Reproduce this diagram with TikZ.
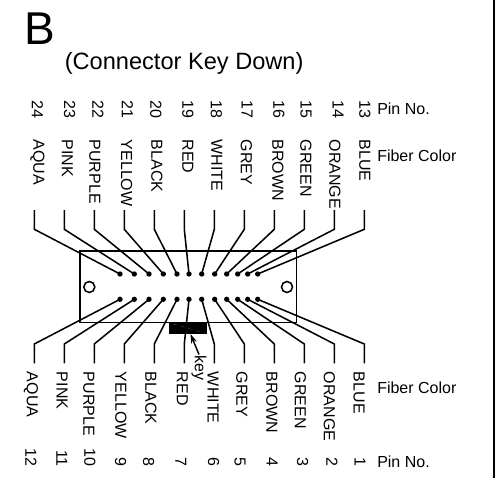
\documentclass[tikz,border=0pt]{standalone}
\usepackage{fontspec}
\setmainfont{Liberation Sans}
\usetikzlibrary{arrows.meta}
\tikzset{
  x=0.75pt,y=-0.75pt,
  wire/.style={line width=1.15pt,line join=miter},
  pinhole/.style={circle,fill=black,inner sep=0pt,minimum size=4pt},
  vlabel/.style={font=\fontsize{12pt}{14pt}\selectfont,rotate=-90,inner sep=0pt},
  hlabel/.style={font=\fontsize{12pt}{14pt}\selectfont,anchor=west,inner sep=0pt},
}
\begin{document}
\begin{tikzpicture}
\useasboundingbox (0,0) rectangle (495,478);
\fill (493,0) rectangle (495,478);
\node[anchor=base west,inner sep=0pt,font=\fontsize{34.5pt}{36pt}\selectfont] (title) at (24.5,45) {B};
\node[anchor=base west,inner sep=0pt,font=\fontsize{17.7pt}{20pt}\selectfont] (sub) at (64.5,69.5) {(Connector Key Down)};
\draw[line width=1.15pt] (80,251) rectangle (296.7,322.3);
\draw[line width=1.15pt] (89.3,287) circle (5.5);
\draw[line width=1.15pt] (287,287) circle (5.5);
\fill (169,323) rectangle (207.3,333.7);
\draw[black!65,line width=0.25pt,dashed] (173,324) -- (205,333);
% top
\foreach \n/\wx/\px/\col/\cx/\nx in {
 24/34.3/120/AQUA/37.5/37.5, 23/64.3/134.3/PINK/67.5/69.7, 22/94.3/149/PURPLE/94.7/98, 21/124.3/163.3/YELLOW/126.7/127.5,
 20/154.3/177/BLACK/156.8/156, 19/184.3/189/RED/188/188, 18/214.3/201.7/WHITE/217/216.5, 17/244.3/214.7/GREY/246.5/247,
 16/274.3/226.7/BROWN/278/279, 15/304.3/237.7/GREEN/306/306, 14/334.3/247.7/ORANGE/335/338, 13/364.3/257.7/BLUE/364.7/365}{
  \coordinate (te\n) at (\wx,210);
  \coordinate (tk\n) at (\wx,229.3);
  \node[pinhole] (p\n) at (\px,274) {};
  \draw[wire] (te\n) -- (tk\n) -- (p\n.center);
  \node[vlabel,anchor=west] (n\n) at (\nx,100) {\n};
  \node[vlabel,anchor=west] (c\n) at (\cx,139.5) {\col};
}
% bottom
\foreach \n/\wx/\px/\col/\cx/\nx in {
 12/34.3/120/AQUA/31/31, 11/64.3/134.3/PINK/62.2/62, 10/94.3/149/PURPLE/88.8/90, 9/124.3/163.3/YELLOW/120.8/120.7,
 8/154.3/177/BLACK/150.8/148.7, 7/184.3/189/RED/182.3/181, 6/214.3/201.7/WHITE/213/213.7, 5/244.3/214.7/GREY/242/240,
 4/274.3/226.7/BROWN/272/272, 3/304.3/237.7/GREEN/300.5/302.7, 2/334.3/247.7/ORANGE/329.5/332, 1/364.3/257.7/BLUE/359/360}{
  \coordinate (be\n) at (\wx,363.3);
  \coordinate (bk\n) at (\wx,344);
  \node[pinhole] (p\n) at (\px,299.3) {};
  \draw[wire] (be\n) -- (bk\n) -- (p\n.center);
  \node[vlabel,anchor=west] (c\n) at (\cx,371.7) {\col};
  \node[vlabel,anchor=east] (n\n) at (\nx,467) {\n};
}
\node[hlabel] (pinA) at (377,109) {Pin No.};
\node[hlabel] (fibA) at (377,156) {Fiber Color};
\node[hlabel] (fibB) at (377,388) {Fiber Color};
\node[hlabel] (pinB) at (377,461.5) {Pin No.};
\node[vlabel,anchor=west] (keyl) at (199,355) {key};
\coordinate (keytip) at (190.5,334);
\draw[line width=1.1pt,-{Stealth[length=7pt,width=4.5pt]}] (199,354.5) -- (keytip);
\end{tikzpicture}
\end{document}
